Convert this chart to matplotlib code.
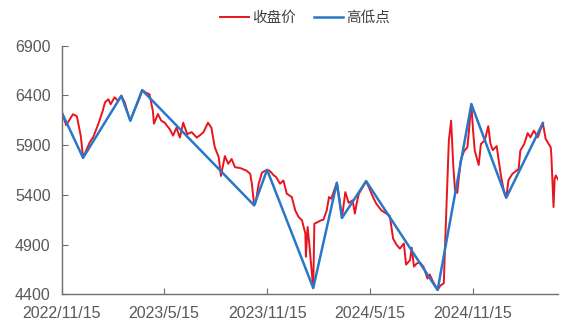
import matplotlib
matplotlib.use("Agg")
import matplotlib.pyplot as plt
import pandas as pd

plt.rcParams['font.family'] = ['Liberation Sans', 'Noto Sans CJK SC', 'DejaVu Sans']

# 收盘价 (roughly weekly plus turning points)
close_dates = [
    "2022-11-15", "2022-11-23", "2022-12-05", "2022-12-12", "2022-12-19", "2022-12-23",
    "2023-01-04", "2023-01-10", "2023-01-19", "2023-01-27", "2023-01-31", "2023-02-06",
    "2023-02-10", "2023-02-17", "2023-02-23", "2023-03-01", "2023-03-07", "2023-03-13",
    "2023-03-17", "2023-03-24", "2023-04-03", "2023-04-07", "2023-04-14", "2023-04-20",
    "2023-04-26", "2023-04-28", "2023-05-05", "2023-05-11", "2023-05-17", "2023-05-26",
    "2023-06-01", "2023-06-07", "2023-06-13", "2023-06-19", "2023-06-26", "2023-07-04",
    "2023-07-13", "2023-07-19", "2023-07-25", "2023-08-02", "2023-08-08", "2023-08-14",
    "2023-08-21", "2023-08-25", "2023-09-01", "2023-09-07", "2023-09-13", "2023-09-19",
    "2023-09-28", "2023-10-09", "2023-10-16", "2023-10-19", "2023-10-23", "2023-10-26",
    "2023-10-31", "2023-11-06", "2023-11-15", "2023-11-20", "2023-11-27", "2023-12-01",
    "2023-12-08", "2023-12-14", "2023-12-20", "2023-12-29", "2024-01-04", "2024-01-10",
    "2024-01-16", "2024-01-22", "2024-01-23", "2024-01-26", "2024-01-29", "2024-02-01",
    "2024-02-05", "2024-02-07", "2024-02-19", "2024-02-23", "2024-02-29", "2024-03-04",
    "2024-03-08", "2024-03-18", "2024-03-22", "2024-03-27", "2024-04-02", "2024-04-08",
    "2024-04-15", "2024-04-19", "2024-04-22", "2024-04-26", "2024-05-09", "2024-05-15",
    "2024-05-21", "2024-05-27", "2024-06-05", "2024-06-14", "2024-06-20", "2024-06-26",
    "2024-07-02", "2024-07-08", "2024-07-15", "2024-07-19", "2024-07-26", "2024-07-29",
    "2024-08-02", "2024-08-07", "2024-08-13", "2024-08-19", "2024-08-26", "2024-08-30",
    "2024-09-05", "2024-09-13", "2024-09-18", "2024-09-24", "2024-09-27", "2024-09-30",
    "2024-10-03", "2024-10-07", "2024-10-11", "2024-10-14", "2024-10-18", "2024-10-24",
    "2024-10-30", "2024-11-05", "2024-11-12", "2024-11-15", "2024-11-18", "2024-11-25",
    "2024-11-29", "2024-12-06", "2024-12-12", "2024-12-16", "2024-12-20", "2024-12-27",
    "2025-01-03", "2025-01-09", "2025-01-13", "2025-01-17", "2025-01-24", "2025-02-04",
    "2025-02-07", "2025-02-14", "2025-02-20", "2025-02-25", "2025-03-03", "2025-03-10",
    "2025-03-19", "2025-03-24", "2025-04-02", "2025-04-03", "2025-04-07", "2025-04-09",
    "2025-04-11", "2025-04-15",
]
close_values = [
    6230, 6100, 6210, 6190, 5990, 5772,
    5930, 5980, 6110, 6245, 6330, 6360,
    6310, 6380, 6345, 6395, 6330, 6210,
    6145, 6245, 6380, 6452, 6425, 6410,
    6245, 6115, 6212, 6145, 6125, 6060,
    5995, 6075, 5975, 6125, 6010, 6030,
    5975, 6000, 6030, 6125, 6075, 5880,
    5780, 5590, 5790, 5712, 5760, 5678,
    5670, 5645, 5612, 5510, 5295, 5330,
    5510, 5625, 5652, 5640, 5595, 5580,
    5512, 5545, 5412, 5378, 5245, 5178,
    5145, 5012, 4780, 5078, 4912, 4712,
    4465, 5110, 5145, 5150, 5245, 5378,
    5362, 5522, 5378, 5168, 5428, 5320,
    5345, 5212, 5310, 5410, 5538, 5462,
    5380, 5312, 5245, 5212, 5190, 4960,
    4900, 4860, 4912, 4700, 4745, 4870,
    4680, 4712, 4720, 4678, 4560, 4600,
    4528, 4445, 4490, 4512, 5012, 5478,
    5945, 6145, 5678, 5445, 5420, 5745,
    5840, 5878, 6312, 6050, 5845, 5700,
    5912, 5950, 6090, 5912, 5850, 5890,
    5612, 5430, 5372, 5550, 5612, 5660,
    5845, 5912, 6020, 5978, 6045, 5978,
    6122, 5962, 5878, 5812, 5278, 5562,
    5595, 5555,
]

# 高低点 (turning points)
pivot_dates = [
    "2022-11-15", "2022-12-23", "2023-03-01", "2023-03-17", "2023-04-07",
    "2023-10-23", "2023-11-15", "2024-02-05", "2024-03-18", "2024-03-27",
    "2024-05-09", "2024-09-13", "2024-11-12", "2025-01-13", "2025-03-19",
]
pivot_values = [
    6230, 5772, 6395, 6145, 6452,
    5295, 5652, 4465, 5522, 5168,
    5538, 4445, 6312, 5372, 6122,
]

tick_dates = ["2022-11-15", "2023-05-15", "2023-11-15", "2024-05-15", "2024-11-15"]
tick_labels = ["2022/11/15", "2023/5/15", "2023/11/15", "2024/5/15", "2024/11/15"]

cd = pd.to_datetime(close_dates)
pvd = pd.to_datetime(pivot_dates)
td = pd.to_datetime(tick_dates)

fig = plt.figure(figsize=(5.7, 3.3), dpi=100)
ax = fig.add_axes([0.1082, 0.1076, 0.8708, 0.7545])

ax.plot(cd, close_values, color='#E8141E', lw=1.4, label='收盘价')
ax.plot(pvd, pivot_values, color='#2878C8', lw=1.8, label='高低点')

ax.set_ylim(4400, 6900)
ax.set_yticks([4400, 4900, 5400, 5900, 6400, 6900])
ax.set_xlim(cd[0], cd[-1])
ax.set_xticks(td)
ax.set_xticklabels(tick_labels)

for s in ['top', 'right']:
    ax.spines[s].set_visible(False)
for s in ['left', 'bottom']:
    ax.spines[s].set_color('#6e6e6e')
    ax.spines[s].set_linewidth(1.0)

ax.tick_params(axis='both', direction='in', length=4, color='#6e6e6e',
               labelcolor='#595959', labelsize=11.5)
ax.tick_params(axis='y', pad=8)
ax.tick_params(axis='x', pad=8)

fig.legend(loc='center', bbox_to_anchor=(0.535, 0.945), ncol=2, frameon=False,
           handlelength=2.0, handletextpad=0.2, columnspacing=1.2,
           labelcolor='#404040',
           prop={'family': ['Noto Sans CJK SC', 'DejaVu Sans'], 'size': 10.5})

fig.savefig('out.png', dpi=100)
